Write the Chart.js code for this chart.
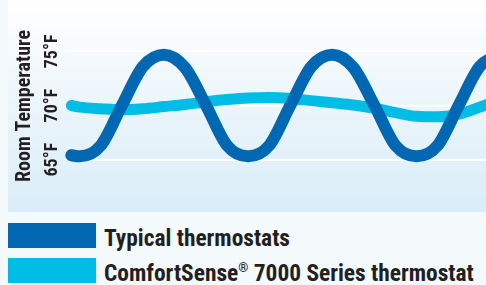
<!DOCTYPE html>
<html>
<head>
<meta charset="utf-8">
<script src="https://cdn.jsdelivr.net/npm/chart.js@4.4.1/dist/chart.umd.min.js"></script>
<style>
  html, body { margin: 0; padding: 0; width: 486px; height: 285px; overflow: hidden; background: #f4f9fc; }
  #panel { position: absolute; left: 8px; top: 0; width: 478px; height: 212px;
           background: linear-gradient(#ffffff 0%, #edf6fb 45%, #d9ecf8 100%); }
  #legend { position: absolute; left: 8px; top: 223px; color: #231f20; font-weight: bold;
            font-family: 'Roboto Condensed', sans-serif; }
  .row { position: relative; height: 25px; margin-bottom: 10px; white-space: nowrap; }
  .swatch { position: absolute; left: 0; top: 0; width: 88px; height: 25px; }
  .label { position: absolute; left: 96px; top: 3px; font-size: 23.4px; line-height: 25px; }
  .label sup { font-size: 0.55em; vertical-align: top; line-height: 1; position: relative; top: 1px; }
</style>
</head>
<body>
<div id="panel"><canvas id="temp-chart"></canvas></div>
<div id="legend"></div>

<script>
/* Room temperature swing: typical thermostat vs ComfortSense 7000 */

const FONT = "'Roboto Condensed', sans-serif";
const TEXT = '#231f20';
const DARK = '#0067b2';
const CYAN = '#00bde5';

// time axis (arbitrary units)
const hours = [-0.4, 0, 1, 2, 3, 4, 5, 6, 7, 8, 9, 10, 11, 12, 13, 14, 15, 16, 17, 18, 19, 20];
const typicalTemps = [65.4, 65.3, 66.3, 70.0, 73.6, 74.7, 73.5, 70.0, 66.3, 65.3, 66.3, 70.0, 73.6, 74.7, 73.5, 70.0, 66.3, 65.3, 66.3, 70.0, 73.6, 74.7];
const comfortTemps = [70.0, 69.85, 69.7, 69.6, 69.7, 69.9, 70.1, 70.35, 70.55, 70.7, 70.75, 70.65, 70.45, 70.25, 70.05, 69.75, 69.35, 69.0, 68.95, 69.2, 69.85, 70.6];
const tickTemps = [65, 70, 75];
const seriesLabels = ['Typical thermostats', 'ComfortSense® 7000 Series thermostat'];

const toPoints = (xs, ys) => xs.map((x, i) => ({ x, y: ys[i] }));

const chart = new Chart(document.getElementById('temp-chart'), {
  type: 'line',
  data: {
    datasets: [
      {
        label: seriesLabels[0],
        data: toPoints(hours, typicalTemps),
        borderColor: DARK,
        backgroundColor: DARK,
        borderWidth: 12,
        borderCapStyle: 'round',
        borderJoinStyle: 'round',
        cubicInterpolationMode: 'monotone',
        pointRadius: 0,
        fill: false
      },
      {
        label: seriesLabels[1],
        data: toPoints(hours, comfortTemps),
        borderColor: CYAN,
        backgroundColor: CYAN,
        borderWidth: 11,
        borderCapStyle: 'round',
        borderJoinStyle: 'round',
        cubicInterpolationMode: 'monotone',
        pointRadius: 0,
        fill: false
      }
    ]
  },
  options: {
    responsive: true,
    maintainAspectRatio: false,
    animation: false,
    devicePixelRatio: 1,
    layout: { padding: 0 },
    plugins: {
      legend: { display: false },
      tooltip: { enabled: false }
    },
    scales: {
      x: { type: 'linear', min: -0.7, max: 19.3, display: false },
      y: {
        min: 60.74,
        max: 79.17,
        afterBuildTicks: s => { s.ticks = tickTemps.map(v => ({ value: v })); },
        afterFit: s => { s.width = 57; },
        border: { display: false },
        grid: { color: '#ffffff', lineWidth: 2, drawTicks: false },
        ticks: {
          minRotation: 90,
          maxRotation: 90,
          crossAlign: 'center',
          padding: -4.5,
          color: TEXT,
          font: { family: FONT, size: 18, weight: 'bold' },
          callback: v => v + '°F'
        },
        title: {
          display: true,
          text: 'Room Temperature',
          color: TEXT,
          font: { family: FONT, size: 20, weight: 'bold', lineHeight: 1.2 },
          padding: { top: 5, bottom: 0 }
        }
      }
    }
  }
});

// html legend under the panel
const legendEl = document.getElementById('legend');
chart.data.datasets.forEach(ds => {
  const row = document.createElement('div');
  row.className = 'row';
  row.innerHTML = `<span class="swatch" style="background:${ds.borderColor}"></span>` +
    `<span class="label">${ds.label.replace('®', '<sup>®</sup>')}</span>`;
  legendEl.appendChild(row);
});
</script>
</body>
</html>
